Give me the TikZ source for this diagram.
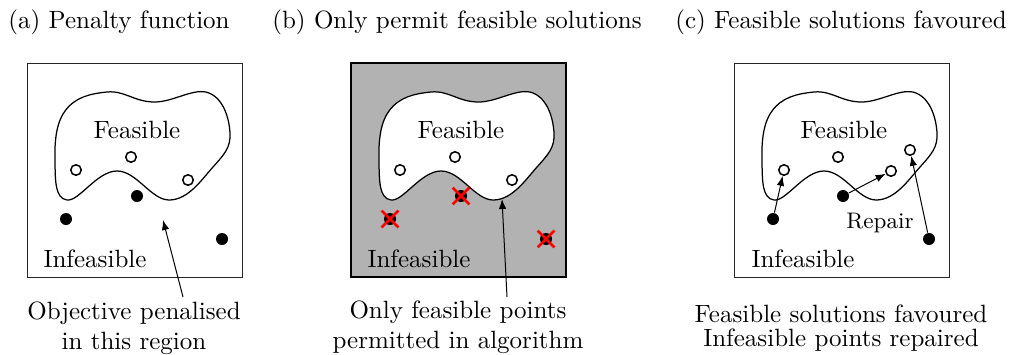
\documentclass[tikz,border=0pt]{standalone}
\usepackage{tikz}
\usetikzlibrary{arrows.meta, shapes.misc}

\tikzset{
  opendot/.style={circle, draw, fill=white, inner sep=0pt, minimum size=4.2pt, line width=0.6pt},
  filldot/.style={circle, fill=black, inner sep=0pt, minimum size=4.8pt},
  crossmark/.style={cross out, draw=red, line width=1.1pt, inner sep=0pt, minimum size=5.6pt},
  blob/.style={draw, line width=0.5pt},
  frame/.style={draw=black!85, line width=0.4pt},
  caption/.style={align=center}
}
\newcommand{\blobline}{plot[smooth cycle, tension=0.7] coordinates {(203,70) (186,104) (143,137) (90,108) (40,137) (28,100) (38,48) (80,29) (127,39) (182,30)}}

\begin{document}
\begin{tikzpicture}[x=0.4pt, y=-0.4pt, >={Latex[length=4pt,width=3pt]}]
  \useasboundingbox (0,0) rectangle (1012,354);

  % titles
  \node (ta) at (119,22) {(a) Penalty function};
  \node (tb) at (457,22) {(b) Only permit feasible solutions};
  \node (tc) at (841,22) {(c) Feasible solutions favoured};

  % (a) penalty function
  \begin{scope}[shift={(27,63)}]
    \draw[frame] (0,0) rectangle (215,214);
    \draw[blob] \blobline;
    \node (fa) at (110,67) {Feasible};
    \node (ia) at (68,196) {Infeasible};
    \node[opendot] (a1) at (49,107) {};
    \node[opendot] (a2) at (104,94) {};
    \node[opendot] (a3) at (161,117) {};
    \node[filldot] (a4) at (110,133) {};
    \node[filldot] (a5) at (39,156) {};
    \node[filldot] (a6) at (195,176) {};
    \coordinate (pa) at (136,157);
    \coordinate (qa) at (156,234);
    \draw[->] (qa) -- (pa);
  \end{scope}
  \node[caption] (capa) at (134,328) {Objective penalised\\in this region};

  % (b) only feasible solutions
  \begin{scope}[shift={(351,63)}]
    \draw[frame, draw=black, line width=0.6pt, fill=black!30] (0,0) rectangle (215,214);
    \draw[blob, fill=white] \blobline;
    \node (fb) at (110,67) {Feasible};
    \node (ib) at (68,196) {Infeasible};
    \node[opendot] (b1) at (49,107) {};
    \node[opendot] (b2) at (104,94) {};
    \node[opendot] (b3) at (161,117) {};
    \node[filldot] (b4) at (110,133) {};
    \node[filldot] (b5) at (39,156) {};
    \node[filldot] (b6) at (195,176) {};
    \node[crossmark] at (b4) {};
    \node[crossmark] at (b5) {};
    \node[crossmark] at (b6) {};
    \coordinate (pb) at (151,136);
    \coordinate (qb) at (156,234);
    \draw[->] (qb) -- (pb);
  \end{scope}
  \node[caption] (capb) at (458,327) {Only feasible points\\permitted in algorithm};

  % (c) feasible solutions favoured
  \begin{scope}[shift={(734,63)}]
    \draw[frame] (0,0) rectangle (215,214);
    \draw[blob] \blobline;
    \node (fc) at (110,67) {Feasible};
    \node (ic) at (69,196) {Infeasible};
    \node[font=\small] (rep) at (146,160) {Repair};
    \node[opendot] (c1) at (50,107) {};
    \node[opendot] (c2) at (104,94) {};
    \node[opendot] (c3) at (157,108) {};
    \node[opendot] (c4) at (176,87) {};
    \node[filldot] (c5) at (39,156) {};
    \node[filldot] (c6) at (109,133) {};
    \node[filldot] (c7) at (195,176) {};
    \draw[->] (c5) -- (c1);
    \draw[->] (c6) -- (c3);
    \draw[->] (c7) -- (c4);
  \end{scope}
  \node[caption] (capc) at (841,328) {Feasible solutions favoured\\[-2.4pt]Infeasible points repaired};
\end{tikzpicture}
\end{document}
